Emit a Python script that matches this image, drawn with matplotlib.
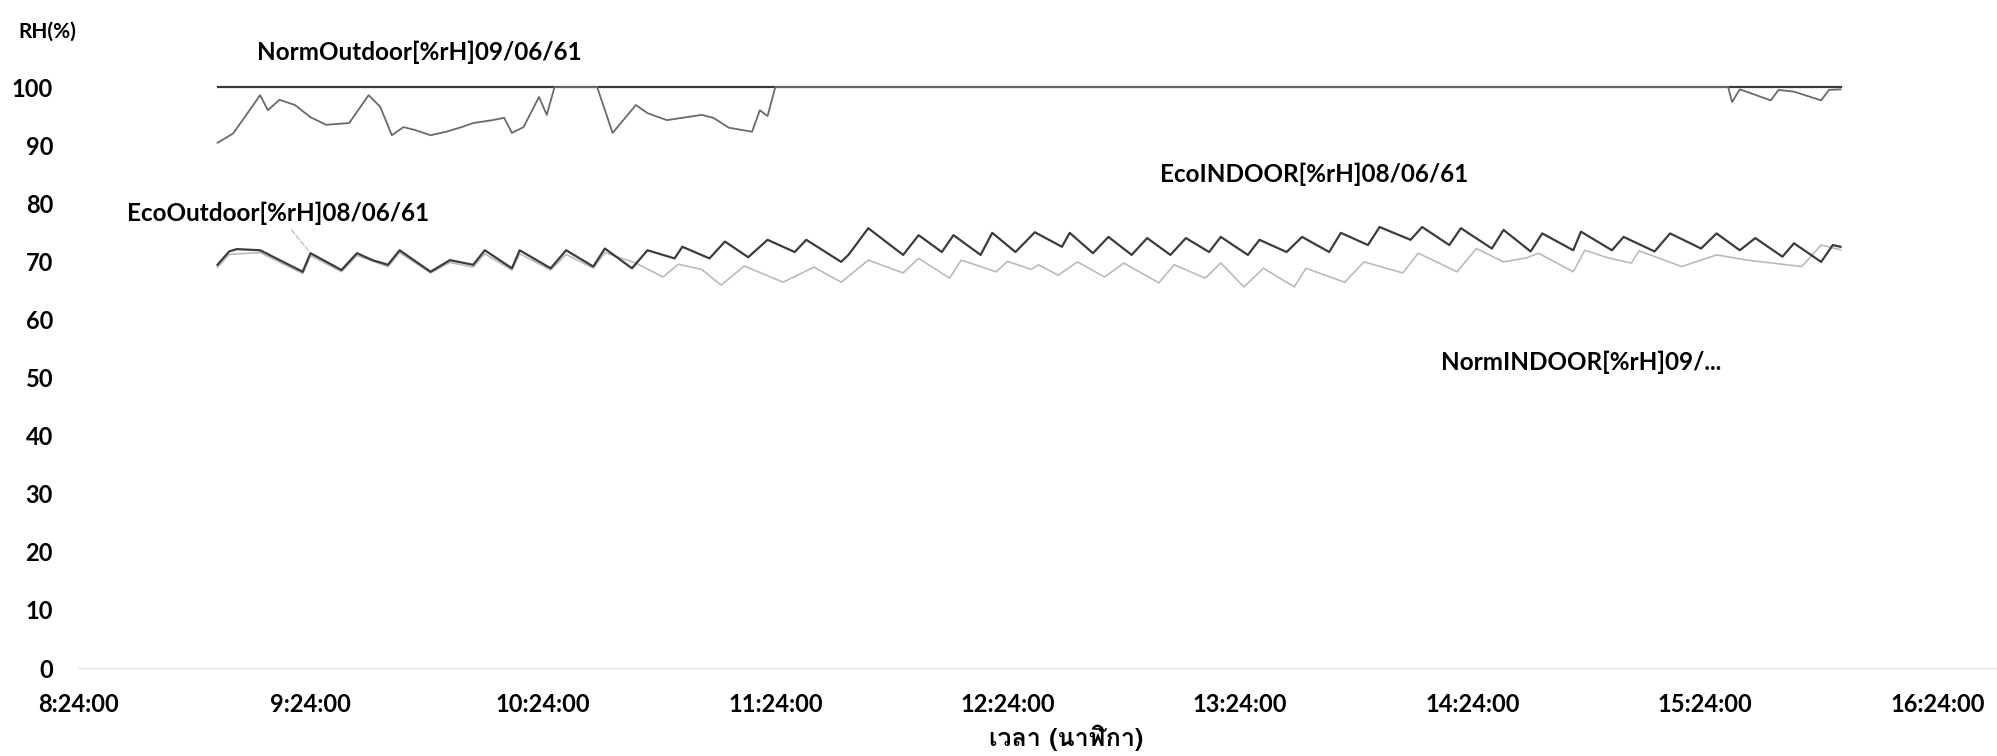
import matplotlib
matplotlib.use('Agg')
import matplotlib.pyplot as plt

# time in minutes of the day, relative humidity in %
xticks = [504, 564, 624, 684, 744, 804, 864, 924, 984]
xtickslabel = ['8:24:00', '9:24:00', '10:24:00', '11:24:00', '12:24:00',
               '13:24:00', '14:24:00', '15:24:00', '16:24:00']
yticks = [0, 10, 20, 30, 40, 50, 60, 70, 80, 90, 100]

normOutT = [540, 544, 547, 551, 553, 556, 560, 564, 568, 574, 579, 582, 585, 588,
            591, 595, 599, 603, 606, 611, 614, 616, 619, 623, 625, 627, 638, 642,
            648, 651, 656, 660, 665, 668, 672, 678, 680, 682, 684, 930, 931, 933,
            941, 943, 947, 954, 956, 959]
normOutV = [90.4, 92.0, 94.8, 98.6, 96.0, 97.8, 96.9, 94.8, 93.5, 93.8, 98.6, 96.6,
            91.7, 93.1, 92.6, 91.7, 92.3, 93.1, 93.8, 94.3, 94.7, 92.1, 93.1, 98.3,
            95.2, 100, 100, 92.1, 96.9, 95.5, 94.3, 94.7, 95.2, 94.7, 93.0, 92.3,
            96.0, 95.0, 100, 100, 97.4, 99.6, 97.7, 99.5, 99.2, 97.7, 99.5, 99.6]

ecoOutT = [540, 959]
ecoOutV = [100, 100]

ecoInT = [540, 543, 545, 551, 562, 564, 572, 576, 580, 584, 587, 595, 600, 606,
          609, 616, 618, 626, 630, 637, 640, 647, 651, 658, 660, 667, 671, 677,
          682, 689, 692, 701, 703, 708, 717, 721, 727, 730, 737, 740, 746, 751,
          758, 760, 766, 770, 776, 780, 786, 790, 796, 799, 806, 809, 816, 820,
          827, 830, 837, 840, 848, 851, 858, 861, 869, 872, 879, 882, 890, 892,
          900, 903, 911, 915, 923, 927, 933, 937, 944, 947, 954, 957, 959]
ecoInV = [69.4, 71.7, 72.1, 71.9, 68.2, 71.4, 68.5, 71.4, 70.2, 69.4, 71.9, 68.2,
          70.2, 69.4, 71.9, 68.8, 71.9, 68.8, 71.9, 69.1, 72.2, 68.8, 71.9, 70.5,
          72.5, 70.5, 73.4, 70.7, 73.7, 71.6, 73.7, 69.9, 71.2, 75.7, 71.1, 74.5,
          71.6, 74.5, 71.1, 74.9, 71.6, 75.0, 72.5, 74.9, 71.4, 74.2, 71.1, 74.0,
          71.1, 74.0, 71.6, 74.2, 71.1, 73.7, 71.6, 74.2, 71.6, 74.9, 72.8, 75.9,
          73.7, 75.9, 72.8, 75.7, 72.2, 75.4, 71.7, 74.8, 71.9, 75.1, 71.9, 74.2,
          71.7, 74.8, 72.2, 74.8, 71.9, 74.0, 70.8, 73.1, 69.9, 72.8, 72.5]

normInT = [540, 543, 551, 562, 564, 572, 576, 584, 587, 595, 600, 606, 609, 616,
           618, 626, 630, 637, 640, 648, 655, 659, 665, 670, 676, 686, 694, 701,
           708, 717, 721, 729, 732, 741, 744, 750, 752, 757, 762, 769, 774, 783,
           787, 795, 799, 805, 810, 818, 821, 831, 836, 846, 850, 860, 865, 872,
           878, 881, 890, 893, 899, 905, 907, 918, 927, 935, 949, 954, 959]
normInV = [69.0, 71.2, 71.5, 67.9, 71.0, 68.2, 71.0, 69.1, 71.5, 68.0, 69.8, 69.0,
           71.3, 68.5, 71.3, 68.5, 71.2, 68.8, 71.5, 69.7, 67.3, 69.5, 68.6, 65.9,
           69.2, 66.4, 69.0, 66.4, 70.2, 68.0, 70.5, 67.1, 70.2, 68.2, 70.0, 68.6,
           69.4, 67.6, 69.9, 67.3, 69.7, 66.3, 69.4, 67.1, 69.7, 65.6, 68.8, 65.6,
           68.8, 66.4, 69.9, 68.0, 71.4, 68.2, 72.2, 69.9, 70.6, 71.4, 68.2, 71.9,
           70.6, 69.7, 71.8, 69.1, 71.1, 70.2, 69.1, 72.8, 72.0]

labelFont = ['Lato', 'DejaVu Sans']
thaiFont = ['Loma', 'Sarabun', 'Lato']

fig = plt.figure(figsize=(19.97, 7.56), dpi=100)
ax = fig.add_axes([0.0391, 0.1164, 0.9609, 0.7685])

ax.plot(ecoOutT, ecoOutV, color='#3a3a3a', lw=1.6, clip_on=False)
ax.plot(normInT, normInV, color='#bababa', lw=1.2, clip_on=False)
ax.plot(ecoInT, ecoInV, color='#3c3c3c', lw=1.6, clip_on=False)
ax.plot(normOutT, normOutV, color='#6a6a6a', lw=1.3, clip_on=False)

ax.set_xlim(504, 999.4)
ax.set_ylim(0, 100)
ax.set_xticks(xticks)
ax.set_xticklabels(xtickslabel)
ax.set_yticks(yticks)
ax.tick_params(length=0, labelsize=17, pad=18)
for lab in ax.get_xticklabels() + ax.get_yticklabels():
    lab.set_fontweight('bold')
    lab.set_family(labelFont)
for s in ['top', 'right', 'left']:
    ax.spines[s].set_visible(False)
ax.spines['bottom'].set_color('#e2e2e2')

# series name labels
txt = dict(fontsize=17.5, fontweight='bold', family=labelFont, ha='center', va='center')
ax.annotate('NormOutdoor[%rH]09/06/61', xy=(592, 105.9), annotation_clip=False, **txt)
ax.annotate('EcoOutdoor[%rH]08/06/61', xy=(564, 71.4), xytext=(555.6, 78.3),
            arrowprops=dict(arrowstyle='-', color='#c4c4c4', lw=1, ls='--'), **txt)
ax.annotate('EcoINDOOR[%rH]08/06/61', xy=(823, 84.9), **txt)
ax.annotate('NormINDOOR[%rH]09/...', xy=(892, 52.7), **txt)

fig.text(18 / 1997, 1 - 32 / 756, 'RH(%)', fontsize=15, fontweight='bold',
         family=labelFont, ha='left', va='center')
fig.text(1066 / 1997, 1 - 738 / 756, 'เวลา (นาฬิกา)', fontsize=18, fontweight='bold',
         family=thaiFont, ha='center', va='center')

plt.savefig('out.png', dpi=100)
